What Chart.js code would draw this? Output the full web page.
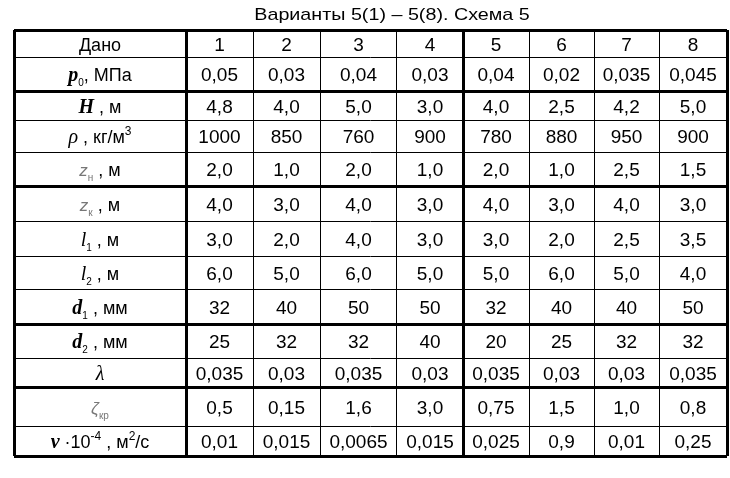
<!DOCTYPE html>
<html>
<head>
<meta charset="utf-8">
<script src="https://cdn.jsdelivr.net/npm/chart.js@4"></script>
<style>
    html, body { margin: 0; padding: 0; background: #fff; }
    canvas { display: block; }
</style>
</head>
<body>
<canvas id="tableChart" width="730" height="478"></canvas>
<script>
// Table data
const title = 'Варианты 5(1) – 5(8). Схема 5';
const headerLabel = 'Дано';
const variants = ['1', '2', '3', '4', '5', '6', '7', '8'];

const symbols = ['p', 'H', 'ρ', 'z', 'z', 'l', 'l', 'd', 'd', 'λ', 'ζ', 'ν'];
const subscripts = ['0', '', '', 'н', 'к', '1', '2', '1', '2', '', 'кр', ''];
const units = [', МПа', ' , м', ' , кг/м^{3}', ' , м', ' , м', ' , м', ' , м', ' , мм', ' , мм', '', '', ' ·10^{-4} , м^{2}/с'];

const p0 = ['0,05', '0,03', '0,04', '0,03', '0,04', '0,02', '0,035', '0,045'];
const H = ['4,8', '4,0', '5,0', '3,0', '4,0', '2,5', '4,2', '5,0'];
const rho = ['1000', '850', '760', '900', '780', '880', '950', '900'];
const zn = ['2,0', '1,0', '2,0', '1,0', '2,0', '1,0', '2,5', '1,5'];
const zk = ['4,0', '3,0', '4,0', '3,0', '4,0', '3,0', '4,0', '3,0'];
const l1 = ['3,0', '2,0', '4,0', '3,0', '3,0', '2,0', '2,5', '3,5'];
const l2 = ['6,0', '5,0', '6,0', '5,0', '5,0', '6,0', '5,0', '4,0'];
const d1 = ['32', '40', '50', '50', '32', '40', '40', '50'];
const d2 = ['25', '32', '32', '40', '20', '25', '32', '32'];
const lambda = ['0,035', '0,03', '0,035', '0,03', '0,035', '0,03', '0,03', '0,035'];
const zeta = ['0,5', '0,15', '1,6', '3,0', '0,75', '1,5', '1,0', '0,8'];
const nu = ['0,01', '0,015', '0,0065', '0,015', '0,025', '0,9', '0,01', '0,25'];

const rows = [p0, H, rho, zn, zk, l1, l2, d1, d2, lambda, zeta, nu];

// Layout (scale units = px inside the table)
const colEdges = [0, 172, 239, 306, 383, 449, 515, 580, 645, 713];
const rowEdges = [0, 27, 61, 90, 122, 156, 191, 226, 259, 294, 328, 357, 396, 426];
const thickCols = [0, 1, 5, 9];
const thickRows = [0, 2, 5, 9, 11, 13];

const SANS = '"Liberation Sans", Arial, sans-serif';
const SERIF = '"Liberation Serif", "Times New Roman", serif';

function symbolStyle(sym) {
    if ('pHdν'.includes(sym)) return { font: 'bold italic 20px ' + SERIF, color: '#000' };
    if ('zζ'.includes(sym)) return { font: 'italic 17px ' + SANS, color: '#777' };
    return { font: 'italic 20px ' + SERIF, color: '#000' };
}

function labelRuns(i) {
    const st = symbolStyle(symbols[i]);
    const runs = [{ text: symbols[i], font: st.font, color: st.color, dy: 0 }];
    if (subscripts[i]) {
        runs.push({ text: subscripts[i], font: '10px ' + SANS, color: st.color, dy: 5 });
    }
    // split units into normal and ^{superscript} pieces
    const parts = units[i].split(/(\^\{[^}]*\})/);
    parts.forEach(part => {
        if (!part) return;
        const m = part.match(/^\^\{([^}]*)\}$/);
        if (m) {
            runs.push({ text: m[1], font: '12px ' + SANS, color: '#000', dy: -8 });
        } else {
            runs.push({ text: part, font: '18px ' + SANS, color: '#000', dy: 0 });
        }
    });
    return runs;
}

function drawRuns(ctx, runs, cx, baseline) {
    let total = 0;
    runs.forEach(r => {
        ctx.font = r.font;
        r.w = ctx.measureText(r.text).width;
        total += r.w;
    });
    let x = cx - total / 2;
    runs.forEach(r => {
        ctx.font = r.font;
        ctx.fillStyle = r.color;
        ctx.fillText(r.text, x, baseline + r.dy);
        x += r.w;
    });
}

// Plugin that writes the cell texts at positions taken from the scales
const tableText = {
    id: 'tableText',
    afterDraw(chart) {
        const { ctx, scales: { x, y } } = chart;
        const colMid = c => x.getPixelForValue((colEdges[c] + colEdges[c + 1]) / 2);
        const rowMid = r => y.getPixelForValue((rowEdges[r] + rowEdges[r + 1]) / 2);

        ctx.save();
        ctx.textAlign = 'left';
        ctx.textBaseline = 'alphabetic';

        // title, slightly widened like the scanned original
        ctx.save();
        ctx.font = '17px ' + SANS;
        ctx.fillStyle = '#000';
        const stretch = 1.16;
        const tw = ctx.measureText(title).width * stretch;
        ctx.translate(392 - tw / 2, 20);
        ctx.scale(stretch, 1);
        ctx.fillText(title, 0, 0);
        ctx.restore();

        // header row
        drawRuns(ctx, [{ text: headerLabel, font: '18px ' + SANS, color: '#000', dy: 0 }], colMid(0), rowMid(0) + 7);
        variants.forEach((v, c) => {
            drawRuns(ctx, [{ text: v, font: '19px ' + SANS, color: '#000', dy: 0 }], colMid(c + 1), rowMid(0) + 7);
        });

        // body rows
        rows.forEach((vals, r) => {
            const base = rowMid(r + 1) + 7;
            drawRuns(ctx, labelRuns(r), colMid(0), base);
            vals.forEach((v, c) => {
                drawRuns(ctx, [{ text: v, font: '19px ' + SANS, color: '#000', dy: 0 }], colMid(c + 1), base);
            });
        });
        ctx.restore();
    }
};

const ctx = document.getElementById('tableChart').getContext('2d');
new Chart(ctx, {
    type: 'scatter',
    data: {
        datasets: [{
            data: [],
            pointRadius: 0
        }]
    },
    options: {
        responsive: false,
        animation: false,
        devicePixelRatio: 1,
        layout: {
            padding: { left: 14, right: 3, top: 30, bottom: 22 }
        },
        plugins: {
            legend: { display: false },
            tooltip: { enabled: false },
            title: { display: false }
        },
        scales: {
            x: {
                type: 'linear',
                min: colEdges[0],
                max: colEdges[colEdges.length - 1],
                afterBuildTicks: axis => {
                    axis.ticks = colEdges.map(v => ({ value: v }));
                },
                ticks: { display: false },
                border: { display: false },
                grid: {
                    color: '#000',
                    drawTicks: false,
                    lineWidth: c => thickCols.includes(c.index) ? 3 : 1
                }
            },
            y: {
                type: 'linear',
                reverse: true,
                min: rowEdges[0],
                max: rowEdges[rowEdges.length - 1],
                afterBuildTicks: axis => {
                    axis.ticks = rowEdges.map(v => ({ value: v }));
                },
                ticks: { display: false },
                border: { display: false },
                grid: {
                    color: '#000',
                    drawTicks: false,
                    lineWidth: c => thickRows.includes(c.index) ? 3 : 1
                }
            }
        }
    },
    plugins: [tableText]
});
</script>
</body>
</html>
